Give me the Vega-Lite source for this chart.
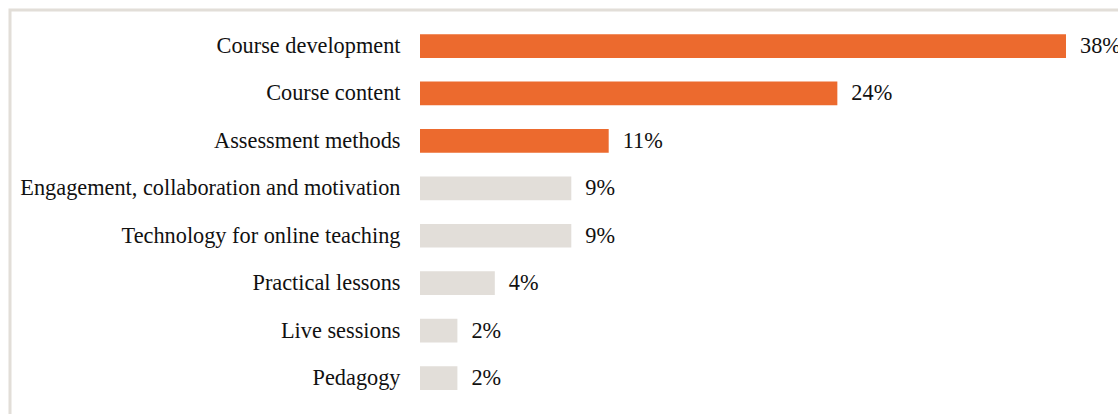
{
  "$schema": "https://vega.github.io/schema/vega-lite/v6.json",
  "autosize": {"type": "none"},
  "padding": {"left": 10, "top": 10, "right": 0, "bottom": 0},
  "width": 1120,
  "height": 406,
  "background": "white",
  "config": {
    "view": {"stroke": "#e2ded8", "strokeWidth": 3},
    "font": "Liberation Serif"
  },
  "data": {
    "values": [
      {"area": "Course development", "value": 38, "label": "38%", "group": "top"},
      {"area": "Course content", "value": 24.55, "label": "24%", "group": "top"},
      {"area": "Assessment methods", "value": 11.1, "label": "11%", "group": "top"},
      {"area": "Engagement, collaboration and motivation", "value": 8.9, "label": "9%", "group": "other"},
      {"area": "Technology for online teaching", "value": 8.9, "label": "9%", "group": "other"},
      {"area": "Practical lessons", "value": 4.4, "label": "4%", "group": "other"},
      {"area": "Live sessions", "value": 2.2, "label": "2%", "group": "other"},
      {"area": "Pedagogy", "value": 2.2, "label": "2%", "group": "other"}
    ]
  },
  "encoding": {
    "y": {
      "field": "area",
      "type": "nominal",
      "sort": null,
      "scale": {"paddingInner": 0.5, "paddingOuter": 0.53, "align": 0.481},
      "axis": {
        "title": null,
        "ticks": false,
        "domain": false,
        "offset": -410,
        "labelPadding": 20,
        "labelFont": "Liberation Serif",
        "labelFontSize": 22.3,
        "labelColor": "#111111",
        "labelLimit": 500
      }
    },
    "x": {
      "field": "value",
      "type": "quantitative",
      "scale": {"domain": [-24.118, 41.765], "nice": false, "zero": false},
      "axis": null
    }
  },
  "layer": [
    {
      "mark": {"type": "bar"},
      "encoding": {
        "x2": {"datum": 0},
        "color": {
          "field": "group",
          "type": "nominal",
          "scale": {"domain": ["top", "other"], "range": ["#ec6a2e", "#e2ded9"]},
          "legend": null
        }
      }
    },
    {
      "mark": {"type": "text", "align": "left", "baseline": "middle", "dx": 14, "fontSize": 22.3, "font": "Liberation Serif", "color": "#111111"},
      "encoding": {"text": {"field": "label"}}
    }
  ]
}
